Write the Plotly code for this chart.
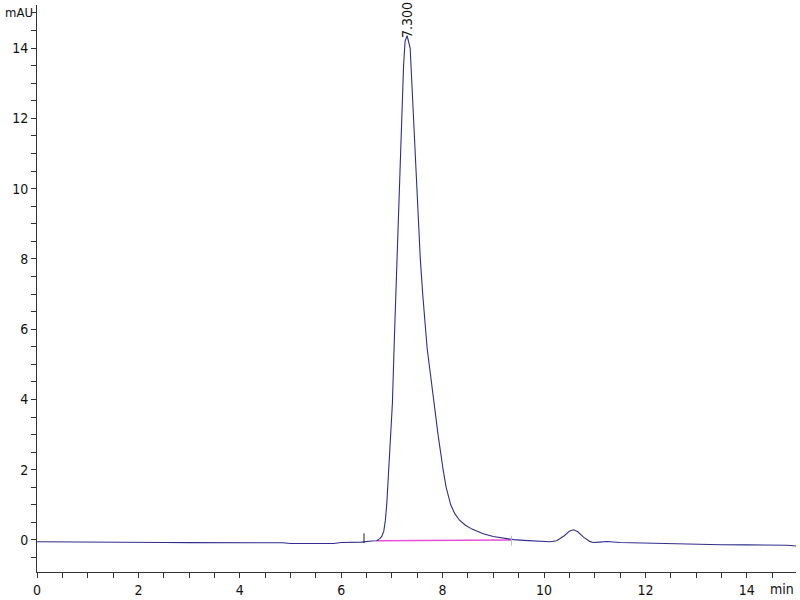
import plotly.graph_objects as go

# Chromatogram signal (time in min, absorbance in mAU)
time = [0.0, 0.5, 1.0, 1.5, 2.0, 2.5, 3.0, 3.5, 4.0, 4.5, 4.85, 5.0, 5.5, 5.85, 6.0, 6.4, 6.6,
        6.70, 6.76, 6.80, 6.84, 6.87, 6.90, 6.94, 6.98, 7.01, 7.05, 7.09, 7.14, 7.19, 7.23, 7.26,
        7.30, 7.36, 7.42, 7.49, 7.56, 7.61, 7.66, 7.695, 7.735, 7.82, 7.91, 8.01,
        8.07, 8.16, 8.24, 8.33, 8.45, 8.58, 8.80, 9.00, 9.20, 9.40, 9.60, 9.80, 10.00,
        10.12, 10.25, 10.40, 10.50, 10.58, 10.66, 10.78, 10.90, 10.97, 11.10, 11.24, 11.50,
        12.00, 12.50, 12.90, 13.50, 14.00, 14.50, 14.70, 14.80, 14.97]
signal = [-0.05, -0.05, -0.05, -0.06, -0.07, -0.07, -0.075, -0.075, -0.075, -0.08, -0.08, -0.10,
          -0.11, -0.10, -0.07, -0.06, -0.03,
          -0.02, 0.04, 0.10, 0.25, 0.55, 1.05, 2.0, 3.0, 3.9, 5.8, 7.5, 9.8, 12.1, 13.5, 14.2,
          14.35, 14.0, 12.2, 10.0, 8.0, 6.95, 6.0, 5.45, 5.0, 4.0, 3.0, 2.0,
          1.5, 1.0, 0.75, 0.57, 0.42, 0.31, 0.18, 0.10, 0.05, 0.01, -0.01, -0.03, -0.04,
          -0.05, -0.02, 0.12, 0.25, 0.29, 0.24, 0.08, -0.04, -0.07, -0.06, -0.045, -0.07,
          -0.09, -0.11, -0.13, -0.135, -0.14, -0.14, -0.16, -0.15, -0.17]

# Integration baseline of the main peak
base_time = [6.70, 9.36]
base_signal = [-0.02, 0.0]

# Peak start / end markers
mark_time = [6.45, 9.36]
mark_signal = [0.05, -0.02]
mark_colors = ["#222222", "#bbbbbb"]

# Peak label
peak_time = 7.300
peak_height = 14.35
peak_label = "7.300"

# Axis units
y_unit = "mAU"
y_unit_pos = 15.0
x_unit = "min"

x_ticks = [i * 0.5 for i in range(0, 30)]
x_text = [str(int(v)) if v % 2 == 0 else "" for v in x_ticks]
y_ticks = [-0.5] + [i * 0.5 for i in range(0, 31)]
y_text = [str(int(v)) if (v >= 0 and v % 2 == 0 and v <= 14) else "" for v in y_ticks]

font_family = "DejaVu Sans Condensed, Liberation Sans Narrow, Liberation Sans, Arial, sans-serif"

fig = go.Figure()
fig.add_trace(go.Scatter(x=base_time, y=base_signal, mode="lines",
                         line=dict(color="#e850d8", width=1.6), hoverinfo="skip"))
fig.add_trace(go.Scatter(x=time, y=signal, mode="lines",
                         line=dict(color="#2e2e8e", width=1.1)))
fig.add_trace(go.Scatter(x=mark_time, y=mark_signal, mode="markers",
                         marker=dict(symbol="line-ns", size=7,
                                     line=dict(color=mark_colors, width=1))))

fig.add_annotation(x=peak_time, y=peak_height - 0.12, xref="x", yref="y",
                   text=peak_label, textangle=-90, showarrow=False,
                   xanchor="center", yanchor="bottom",
                   font=dict(size=14, color="#111111", family=font_family))
fig.add_annotation(x=0, y=y_unit_pos, xref="paper", yref="y", text=y_unit,
                   showarrow=False, xanchor="right", yanchor="middle", xshift=-2,
                   font=dict(size=13, color="#111111", family=font_family))
fig.add_annotation(x=1.0, y=0, xref="paper", yref="paper", text=x_unit,
                   showarrow=False, xanchor="right", yanchor="top", yshift=-7, xshift=0,
                   font=dict(size=14, color="#111111", family=font_family))

fig.update_layout(
    width=800, height=600,
    margin=dict(l=37, r=4, t=5, b=28, autoexpand=False),
    paper_bgcolor="white", plot_bgcolor="white",
    showlegend=False,
    font=dict(family=font_family, size=14, color="#111111"),
    xaxis=dict(range=[0, 14.97], tickmode="array", tickvals=x_ticks, ticktext=x_text,
               ticks="outside", ticklen=5, tickcolor="#333333", showline=True,
               linecolor="#333333", linewidth=1, showgrid=False, zeroline=False,
               automargin=False),
    yaxis=dict(range=[-0.911, 15.225], tickmode="array", tickvals=y_ticks, ticktext=y_text,
               ticks="outside", ticklen=5, tickcolor="#333333", showline=True,
               linecolor="#333333", linewidth=1, showgrid=False, zeroline=False,
               automargin=False),
)

fig.write_html("out.html", config={"displayModeBar": False},
               post_script="document.body.style.margin='0';document.body.style.padding='0';")
